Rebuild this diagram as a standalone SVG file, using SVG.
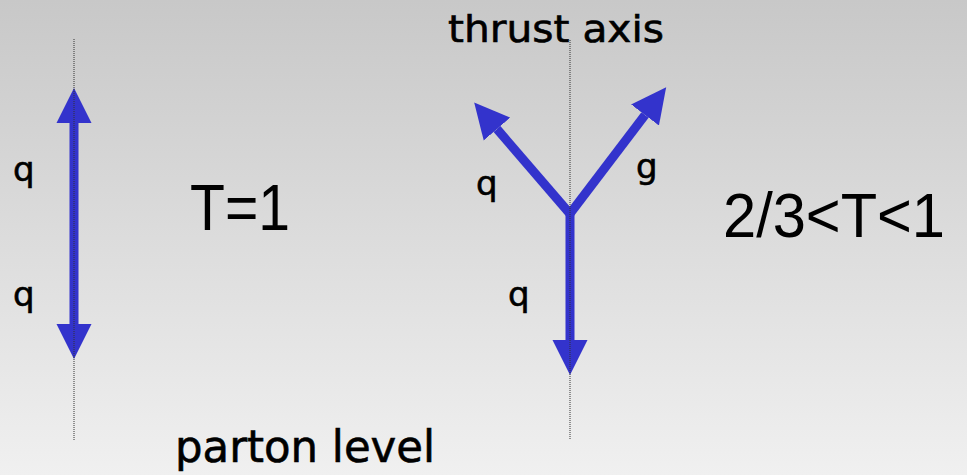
<svg xmlns="http://www.w3.org/2000/svg" width="967" height="475" viewBox="0 0 967 475">
<defs>
<linearGradient id="bg" x1="0" y1="0" x2="0" y2="1">
<stop offset="0" stop-color="#c8c8c8"/>
<stop offset="1" stop-color="#f0f0f0"/>
</linearGradient>
<marker id="head" markerUnits="userSpaceOnUse" markerWidth="36" markerHeight="36" viewBox="0 -18 36 36" refX="0" refY="0" orient="auto-start-reverse">
<path d="M0,-17.5 L35,0 L0,17.5 Z" fill="#3333cc"/>
</marker>
</defs>
<style>
.shaft{stroke:#3333cc;stroke-width:9;fill:none}
.axis{stroke:#333;stroke-width:1;stroke-dasharray:1 1;fill:none}
.lbl{font-family:"DejaVu Sans",sans-serif;fill:#000;stroke:#000;stroke-width:0.6}
.big{font-family:"Liberation Sans",Arial,sans-serif;fill:#000}
</style>
<rect width="967" height="475" fill="url(#bg)"/>
<g id="connectors">
<line class="shaft" x1="74" y1="123" x2="74" y2="324" marker-start="url(#head)" marker-end="url(#head)"/>
<line class="shaft" x1="570" y1="211" x2="570" y2="340" marker-end="url(#head)"/>
<line class="shaft" x1="571" y1="215" x2="497" y2="129" marker-end="url(#head)"/>
<line class="shaft" x1="569" y1="215" x2="645" y2="115" marker-end="url(#head)"/>
<line class="axis" x1="74" y1="39" x2="74" y2="440"/>
<line class="axis" x1="570" y1="40" x2="570" y2="439"/>
</g>
<g id="left-labels">
<text class="lbl" x="13" y="181" font-size="34">q</text>
<text class="lbl" x="13" y="306" font-size="34">q</text>
</g>
<g id="right-labels">
<text class="lbl" x="476" y="195" font-size="34">q</text>
<text class="lbl" x="636" y="178" font-size="34">g</text>
<text class="lbl" x="508" y="306" font-size="34">q</text>
</g>
<g id="thrust-axis-label">
<text class="lbl" x="448" y="42" font-size="38" textLength="216" lengthAdjust="spacingAndGlyphs">thrust axis</text>
</g>
<g id="t1">
<text class="big" x="190" y="230" font-size="64" textLength="100" lengthAdjust="spacingAndGlyphs">T=1</text>
</g>
<g id="t23">
<text class="big" x="723" y="237" font-size="63" textLength="222" lengthAdjust="spacingAndGlyphs">2/3&lt;T&lt;1</text>
</g>
<g id="parton-level">
<text class="lbl" x="175" y="462" font-size="44" textLength="260" lengthAdjust="spacingAndGlyphs">parton level</text>
</g>
</svg>
